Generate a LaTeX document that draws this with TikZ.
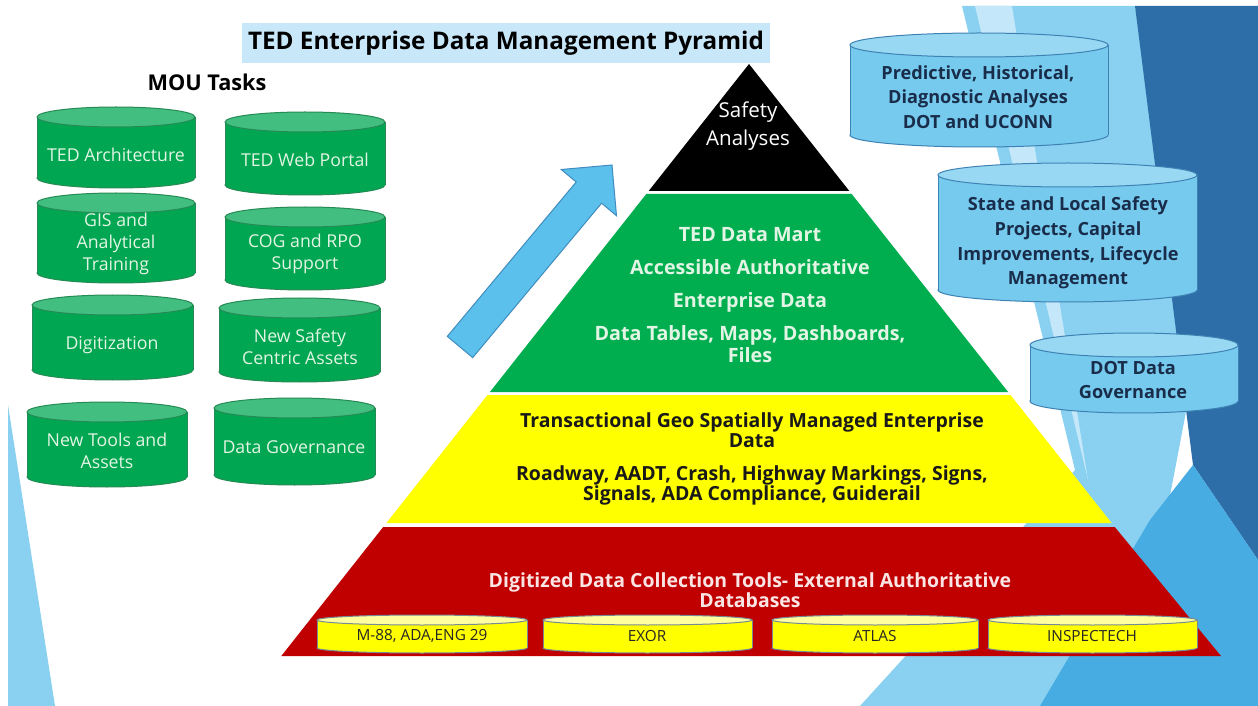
\documentclass[tikz,border=0pt]{standalone}
\usepackage{fontspec}
\setmainfont{Open Sans}

\definecolor{cangreen}{RGB}{0,166,81}
\definecolor{cangreentop}{RGB}{66,190,128}
\definecolor{cangreenline}{RGB}{38,138,84}
\definecolor{cantext}{RGB}{226,245,228}
\definecolor{pyrgreen}{RGB}{0,174,80}
\definecolor{pyryellow}{RGB}{255,255,0}
\definecolor{pyrred}{RGB}{192,0,0}
\definecolor{redtext}{RGB}{250,228,228}
\definecolor{skycan}{RGB}{118,202,238}
\definecolor{skycantop}{RGB}{152,216,243}
\definecolor{skycanline}{RGB}{62,130,180}
\definecolor{navytext}{RGB}{25,45,75}
\definecolor{titlebox}{RGB}{200,231,248}
\definecolor{arrowblue}{RGB}{91,192,235}
\definecolor{arrowline}{RGB}{65,140,190}
\definecolor{facetpale}{RGB}{196,232,249}
\definecolor{facetlight}{RGB}{138,208,241}
\definecolor{facetmid}{RGB}{70,172,226}
\definecolor{facetdark}{RGB}{46,110,168}
\definecolor{yellowcantop}{RGB}{255,255,160}
\definecolor{yellowcanline}{RGB}{120,138,150}

% body, top, line, x1, x2, y top, y bottom, y radius
\newcommand{\dbcan}[8]{%
  \draw[draw=#3, fill=#1] ({(#4+#5)/2},#7) ellipse [x radius={(#5-#4)/2}, y radius=#8];
  \fill[#1] (#4,#6) rectangle (#5,#7);
  \draw[#3] (#4,#6) -- (#4,#7) (#5,#6) -- (#5,#7);
  \draw[draw=#3, fill=#2] ({(#4+#5)/2},#6) ellipse [x radius={(#5-#4)/2}, y radius=#8];
}

\tikzset{every picture/.style={line width=0.75pt}}
\tikzset{
  greentxt/.style={inner sep=0.75pt, align=center, text=cantext, font=\fontsize{13.3}{16.5}\selectfont},
  skytxt/.style={inner sep=0.75pt, align=center, text=navytext, font=\fontsize{13.6}{18.5}\selectfont\bfseries},
  tooltxt/.style={inner sep=0.75pt, align=center, text=black!85, font=\fontsize{11.5}{13}\selectfont},
}

\begin{document}
\begin{tikzpicture}[x=0.75pt,y=0.75pt,yscale=-1,xscale=1]
    \useasboundingbox (0,0) rectangle (1258,706);
    \fill[white] (0,0) rectangle (1258,706);

    %Shape: Facets right
    \fill[facetlight] (962,6) -- (1135,6) -- (1200,338) -- (1130,706) -- (860,706) -- (1075,470) -- cycle;
    \fill[facetpale] (975,6) -- (1012,6) -- (1088,480) -- cycle;
    \fill[facetdark] (1135,6) -- (1258,6) -- (1258,560) -- (1193,465) -- cycle;
    \fill[facetmid] (1193,465) -- (1258,560) -- (1258,706) -- (1040,706) -- (1150,520) -- cycle;
    %Shape: Facet left
    \fill[facetlight] (8,405) -- (55,706) -- (8,706) -- cycle;

    %Shape: Title box
    \fill[titlebox] (242,23) rectangle (770,63);
    % Text Node
    \node[inner sep=0.75pt, font=\fontsize{18.2}{21}\selectfont\bfseries] (title) at (506,43) {TED Enterprise Data Management Pyramid};
    % Text Node
    \node[inner sep=0.75pt, font=\fontsize{16.3}{19}\selectfont\bfseries] (mou) at (207,82) {MOU Tasks};

    %Shape: Can (MOU tasks)
    \dbcan{cangreen}{cangreentop}{cangreenline}{37}{195}{117}{178}{10}
    \dbcan{cangreen}{cangreentop}{cangreenline}{225}{385}{122}{185}{10}
    \dbcan{cangreen}{cangreentop}{cangreenline}{37}{195}{203}{273}{10}
    \dbcan{cangreen}{cangreentop}{cangreenline}{225}{385}{217}{280}{10}
    \dbcan{cangreen}{cangreentop}{cangreenline}{32}{193}{305}{370}{10}
    \dbcan{cangreen}{cangreentop}{cangreenline}{219}{380}{308}{372}{10}
    \dbcan{cangreen}{cangreentop}{cangreenline}{27}{187}{412}{477}{10}
    \dbcan{cangreen}{cangreentop}{cangreenline}{214}{375}{408}{475}{10}
    % Text Node
    \node[greentxt] (arch) at (116,155) {TED Architecture};
    \node[greentxt] (portal) at (305,160) {TED Web Portal};
    \node[greentxt] (gis) at (116,244) {GIS and\\Analytical\\Training};
    \node[greentxt] (cog) at (305,254) {COG and RPO\\Support};
    \node[greentxt] (digit) at (112,345) {Digitization};
    \node[greentxt] (newsafety) at (300,347) {New Safety\\Centric Assets};
    \node[greentxt] (newtools) at (107,451) {New Tools and\\Assets};
    \node[greentxt] (datagov) at (294,447) {Data Governance};

    %Shape: Block arrow
    \draw[draw=arrowline, fill=arrowblue] (447.3,336.4) -- (576.2,182.0) -- (561.3,169.5) -- (612,165) -- (616.5,215.7) -- (601.6,203.2) -- (472.7,357.6) -- cycle;

    %Shape: Pyramid layers
    \fill[black] (749,64) -- (849.3,191) -- (648.7,191) -- cycle;
    \fill[pyrgreen] (646.3,194) -- (851.7,194) -- (1008.1,392) -- (489.9,392) -- cycle;
    \fill[pyryellow] (487.5,395) -- (1010.5,395) -- (1111.6,523) -- (386.4,523) -- cycle;
    \fill[pyrred] (383.2,527) -- (1114.8,527) -- (1221,656) -- (281.3,656) -- cycle;

    % Text Node
    \node[inner sep=0.75pt, align=center, text=white, font=\fontsize{15.4}{21}\selectfont] (safety) at (748,126) {Safety\\Analyses};
    % Text Node
    \node[inner sep=0.75pt, align=center, text=cantext, font=\fontsize{14.8}{16.5}\selectfont\bfseries] (mart) at (750,295) {TED Data Mart\\[8.25pt]Accessible Authoritative\\[8.25pt]Enterprise Data\\[8.25pt]Data Tables, Maps, Dashboards,\\Files};
    % Text Node
    \node[inner sep=0.75pt, align=center, text=black!90, font=\fontsize{14.6}{14.8}\selectfont\bfseries] (geo) at (752,459) {Transactional Geo Spatially Managed Enterprise\\Data\\[10pt]Roadway, AADT, Crash, Highway Markings, Signs,\\Signals, ADA Compliance, Guiderail};
    % Text Node
    \node[inner sep=0.75pt, align=center, text=redtext, font=\fontsize{14.6}{15}\selectfont\bfseries] (digitools) at (750,590) {Digitized Data Collection Tools- External Authoritative\\Databases};

    %Shape: Can (tools)
    \dbcan{pyryellow}{yellowcantop}{yellowcanline}{317}{527}{620}{648}{5}
    \dbcan{pyryellow}{yellowcantop}{yellowcanline}{543}{752}{620}{648}{5}
    \dbcan{pyryellow}{yellowcantop}{yellowcanline}{772}{978}{620}{648}{5}
    \dbcan{pyryellow}{yellowcantop}{yellowcanline}{988}{1197}{620}{648}{5}
    % Text Node
    \node[tooltxt] (m88) at (422,636) {M-88, ADA,ENG 29};
    \node[tooltxt] (exor) at (647,636) {EXOR};
    \node[tooltxt] (atlas) at (875,636) {ATLAS};
    \node[tooltxt] (inspectech) at (1092,636) {INSPECTECH};

    %Shape: Can (uses)
    \dbcan{skycan}{skycantop}{skycanline}{850}{1108}{45}{135}{12}
    \dbcan{skycan}{skycantop}{skycanline}{938}{1197}{175}{290}{12}
    \dbcan{skycan}{skycantop}{skycanline}{1030}{1238}{345}{401}{12}
    % Text Node
    \node[skytxt] (predictive) at (978,97) {Predictive, Historical,\\Diagnostic Analyses\\DOT and UCONN};
    \node[skytxt] (statelocal) at (1068,243) {State and Local Safety\\Projects, Capital\\Improvements, Lifecycle\\Management};
    \node[skytxt] (dotgov) at (1133,380) {DOT Data\\Governance};

\end{tikzpicture}
\end{document}
